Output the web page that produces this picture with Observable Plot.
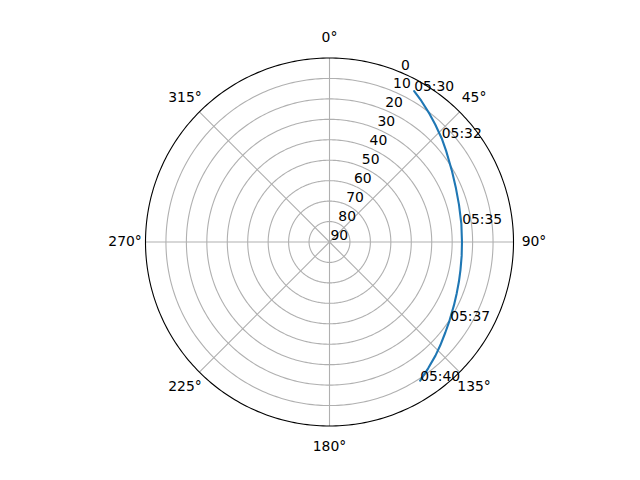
<!DOCTYPE html>
<html>
<head>
<meta charset="utf-8">
<script src="https://cdn.jsdelivr.net/npm/d3@7"></script>
<script src="https://cdn.jsdelivr.net/npm/@observablehq/plot@0.6"></script>
<style>
  html, body { margin: 0; padding: 0; background: #fff; }
  svg { display: block; }
</style>
</head>
<body>
<div id="chart"></div>
<script>
// Satellite track: azimuth (deg, clockwise from north) and elevation (deg)
const trackAz = [29.3, 33, 38, 42, 47.3, 52, 60, 67, 74, 82.2, 90, 96, 102, 107, 112, 117, 123.3, 128, 133, 137, 142, 146.8];
const trackEl = [5.4, 7.6, 10.5, 12.7, 15.3, 17.6, 20.8, 22.8, 24.1, 24.9, 25.2, 25.0, 24.5, 23.8, 22.9, 21.7, 19.8, 18.1, 15.9, 14.0, 11.6, 9.0];

// Time annotations along the track
const timeLabels = ["05:30", "05:32", "05:35", "05:37", "05:40"];
const timeAz = [29.3, 47.3, 82.2, 123.3, 146.8];
const timeEl = [5.4, 15.3, 24.5, 19.4, 9.0];

// Grid / tick values
const ringEl = [10, 20, 30, 40, 50, 60, 70, 80];
const rTicks = [0, 10, 20, 30, 40, 50, 60, 70, 80, 90];
const thetaTicks = [0, 45, 90, 135, 180, 225, 270, 315];
const rLabelAz = 22.5;
const thetaLabelEl = -10;

// azimuth -> longitude for a pole-centred azimuthal-equidistant projection
const lon = (az) => 180 - az;

const track = trackAz.map((a, i) => ({lon: lon(a), lat: trackEl[i]}));
const times = timeLabels.map((t, i) => ({t, lon: lon(timeAz[i]), lat: timeEl[i]}));

const font = {fontFamily: "DejaVu Sans", fontSize: 13.9, fill: "black"};

const chart = Plot.plot({
  width: 640,
  height: 480,
  marginTop: 57.5,
  marginBottom: 54.5,
  marginLeft: 90,
  marginRight: 72,
  style: {background: "white", color: "black", fontFamily: "DejaVu Sans", fontSize: "13.9px"},
  projection: {
    type: "azimuthal-equidistant",
    rotate: [0, -90],
    clip: false,
    domain: {type: "MultiPoint", coordinates: [[0, 0], [90, 0], [180, 0], [-90, 0]]}
  },
  marks: [
    Plot.geo(ringEl, {
      geometry: (e) => d3.geoCircle().center([0, 90]).radius(90 - e).precision(1)(),
      fill: "none", stroke: "#b0b0b0", strokeWidth: 1.1
    }),
    Plot.link(thetaTicks, {
      x1: (a) => lon(a), y1: () => 90, x2: (a) => lon(a), y2: () => 0,
      stroke: "#b0b0b0", strokeWidth: 1.1
    }),
    Plot.line(track, {x: "lon", y: "lat", stroke: "#1f77b4", strokeWidth: 2.1}),
    Plot.geo([0], {
      geometry: (e) => d3.geoCircle().center([0, 90]).radius(90 - e).precision(1)(),
      fill: "none", stroke: "black", strokeWidth: 1.1
    }),
    Plot.text(thetaTicks, {
      x: (a) => lon(a), y: () => thetaLabelEl, text: (a) => `${a}°`,
      textAnchor: "middle", lineAnchor: "middle", ...font
    }),
    Plot.text(rTicks, {
      x: () => lon(rLabelAz), y: (e) => e, text: (e) => String(e),
      textAnchor: "start", lineAnchor: "bottom", dx: 1, dy: -2.5, ...font
    }),
    Plot.text(times, {
      x: "lon", y: "lat", text: "t",
      textAnchor: "start", lineAnchor: "bottom", ...font
    })
  ]
});
document.getElementById("chart").appendChild(chart);
</script>
</body>
</html>
